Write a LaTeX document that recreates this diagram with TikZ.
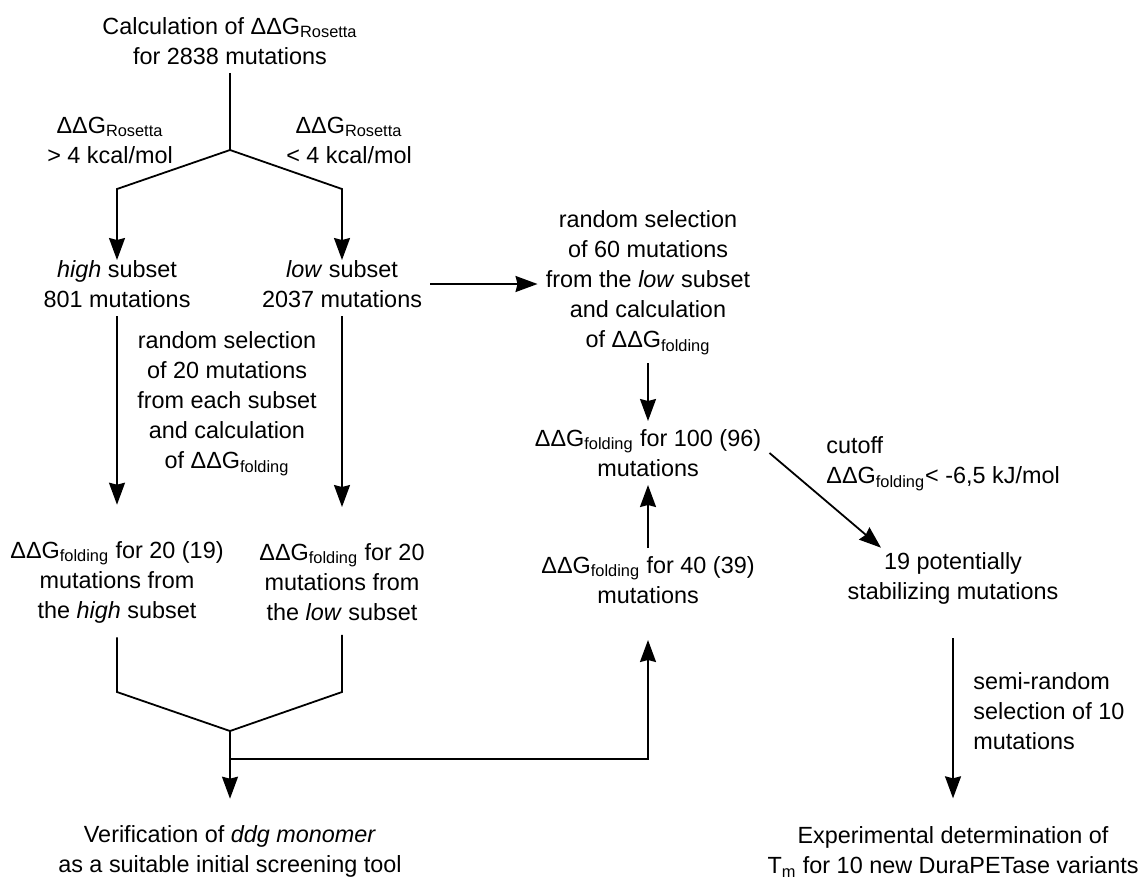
\documentclass[tikz,border=0pt]{standalone}
\usepackage{fontspec}
\setmainfont{Liberation Sans}
\usetikzlibrary{arrows.meta}

\newcommand{\ddG}[1]{ΔΔG\textsubscript{#1}}

\begin{document}
\begin{tikzpicture}[
  x=0.5pt, y=-0.5pt,
  txt/.style={font=\fontsize{11.7}{15}\selectfont, align=center, inner sep=4pt},
  lbl/.style={txt, align=left, anchor=west},
  ln/.style={line width=0.9pt},
  arr/.style={ln, -{Stealth[length=11pt, width=8pt, inset=1pt]}},
]
\useasboundingbox (0,0) rectangle (1143,879);

% start and first split
\node[txt] (calc) at (230,41) {Calculation of \ddG{Rosetta}\\for 2838 mutations};
\node[txt] (rosHi) at (110,140) {\ddG{Rosetta}\\> 4 kcal/mol};
\node[txt] (rosLo) at (349,140) {\ddG{Rosetta}\\< 4 kcal/mol};
\node[txt] (high) at (117,284) {\textit{high} subset\\801 mutations};
\node[txt] (low)  at (342,284) {\textit{low} subset\\2037 mutations};

\coordinate (fork) at (230,150);
\coordinate (hiK)  at (117,189);
\coordinate (loK)  at (342,189);

\draw[ln] (calc) -- (fork);
\draw[arr, shorten >=-4pt] (fork) -- (hiK) -- (high);
\draw[arr, shorten >=-4pt] (fork) -- (loK) -- (low);

% left branch: 20 + 20 mutations
\node[txt] (sel20) at (227,404) {random selection\\of 20 mutations\\from each subset\\and calculation\\of \ddG{folding}};
\node[txt] (f20hi) at (117,582) {\ddG{folding} for 20 (19)\\mutations from\\the \textit{high} subset};
\node[txt] (f20lo) at (342,582) {\ddG{folding} for 20\\mutations from\\the \textit{low} subset};

\draw[arr, shorten >=14pt] (high) -- (f20hi);
\draw[arr, shorten >=14pt] (low) -- (f20lo);

\coordinate (hiJ)  at (117,692);
\coordinate (loJ)  at (342,692);
\coordinate (join) at (230,731);
\coordinate (tee)  at (230,759);

\draw[ln, shorten <=3pt] (f20hi) -- (hiJ) -- (join);
\draw[ln, shorten <=3pt] (f20lo) -- (loJ) -- (join);

\node[txt] (verif) at (230,851) {Verification of \textit{ddg monomer}\\as a suitable initial screening tool};
\draw[arr, shorten >=9pt] (join) -- (verif);

% middle column: 60 + 40 mutations
\node[txt] (sel60) at (648,283) {random selection\\of 60 mutations\\from the \textit{low} subset\\and calculation\\of \ddG{folding}};
\node[txt] (f100) at (648,453) {\ddG{folding} for 100 (96)\\mutations};
\node[txt] (f40)  at (648,580) {\ddG{folding} for 40 (39)\\mutations};

\draw[arr] (low.east) -- (low.east -| sel60.west);
\draw[arr] (sel60) -- (f100);
\draw[arr] (f40) -- (f100);
\draw[arr, shorten >=14pt] (tee) -| (f40);

% right column
\node[lbl] (cut) at (818,464) {cutoff\\\ddG{folding}< -6,5 kJ/mol};
\node[txt] (pot19) at (953,578) {19 potentially\\stabilizing mutations};
\node[lbl] (semi) at (965,711) {semi-random\\selection of 10\\mutations};
\node[txt] (exper) at (953,852) {Experimental determination of\\T\textsubscript{m} for 10 new DuraPETase variants};

\draw[arr] (f100.east) -- ([xshift=-36pt, yshift=-2pt]pot19.north);
\draw[arr, shorten <=13pt, shorten >=10pt] (pot19) -- (exper);

\end{tikzpicture}
\end{document}
